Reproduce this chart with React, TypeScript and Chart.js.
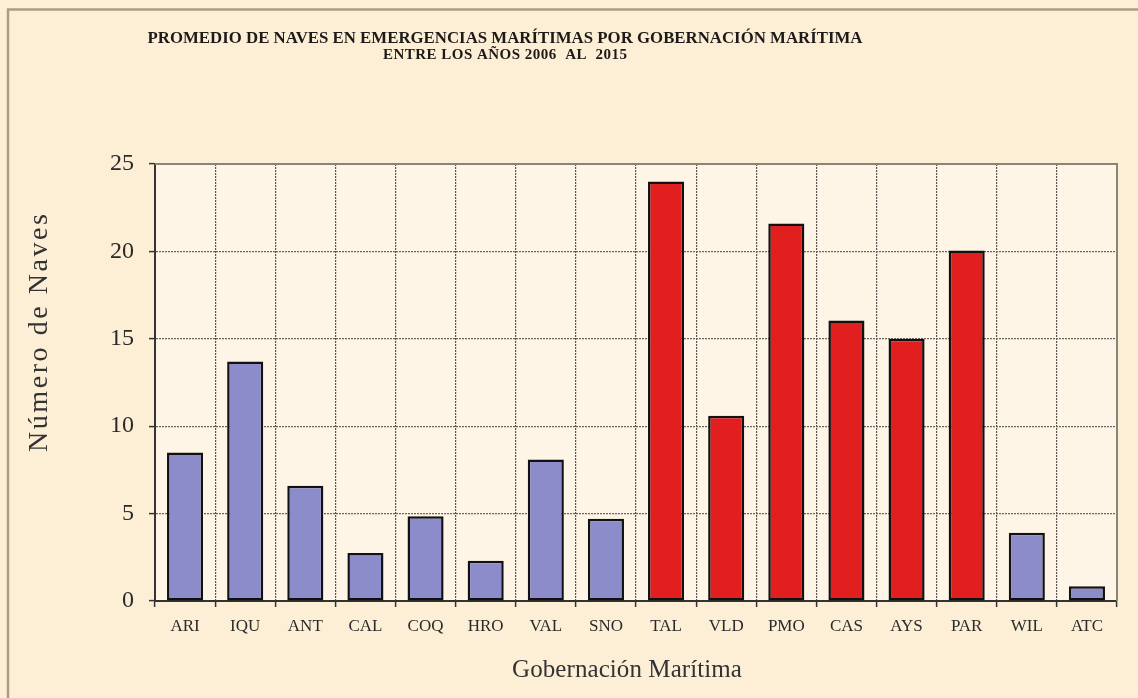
import React, { useEffect, useRef } from "react";
import { Chart, registerables } from "chart.js";

Chart.register(...registerables);

// ---- data ----
const categories = ["ARI", "IQU", "ANT", "CAL", "COQ", "HRO", "VAL", "SNO", "TAL", "VLD", "PMO", "CAS", "AYS", "PAR", "WIL", "ATC"];
const values = [8.5, 13.7, 6.6, 2.75, 4.85, 2.3, 8.1, 4.7, 24.0, 10.6, 21.6, 16.05, 15.0, 20.05, 3.9, 0.85];
const groups = ["n", "n", "n", "n", "n", "n", "n", "n", "h", "h", "h", "h", "h", "h", "n", "n"];
const yTickValues = [0, 5, 10, 15, 20, 25];
const titleLines = [
  "PROMEDIO DE NAVES EN EMERGENCIAS MARÍTIMAS POR GOBERNACIÓN MARÍTIMA",
  "ENTRE LOS AÑOS 2006  AL  2015",
];
const yTitle = "Número de Naves";
const xTitle = "Gobernación Marítima";

const COLOR_NORMAL = "#8c8ccb";
const COLOR_HIGH = "#e21f1f";
const BG = "#fcefd6";
const PLOT_BG = "#fff5e6";
const SERIF = "'Liberation Serif', 'DejaVu Serif', serif";

function drawFitted(ctx: CanvasRenderingContext2D, text: string, cx: number, cy: number, target: number, font: string, color: string) {
  ctx.save();
  ctx.font = font;
  ctx.fillStyle = color;
  ctx.textBaseline = "middle";
  ctx.textAlign = "left";
  const w = ctx.measureText(text).width;
  const n = Array.from(text).length;
  if (w < target && n > 1) {
    const ls = (target - w) / (n - 1);
    (ctx as any).letterSpacing = ls.toFixed(2) + "px";
    ctx.fillText(text, cx - target / 2, cy);
  } else {
    ctx.fillText(text, cx - target / 2, cy, target);
  }
  ctx.restore();
}

const decorPlugin = {
  id: "decor",
  beforeDraw(chart: any) {
    const { ctx, width, height, chartArea } = chart;
    ctx.save();
    ctx.fillStyle = BG;
    ctx.fillRect(0, 0, width, height);
    ctx.strokeStyle = "#a89e86";
    ctx.lineWidth = 2.5;
    ctx.beginPath();
    ctx.moveTo(8, height);
    ctx.lineTo(8, 9.5);
    ctx.lineTo(width, 9.5);
    ctx.stroke();
    ctx.fillStyle = PLOT_BG;
    ctx.fillRect(chartArea.left, chartArea.top, chartArea.right - chartArea.left, chartArea.bottom - chartArea.top);
    ctx.restore();
  },
  beforeDatasetsDraw(chart: any) {
    const { ctx, chartArea } = chart;
    ctx.save();
    ctx.strokeStyle = "#8a8378";
    ctx.lineWidth = 2;
    ctx.beginPath();
    ctx.moveTo(chartArea.left, chartArea.top);
    ctx.lineTo(chartArea.right, chartArea.top);
    ctx.lineTo(chartArea.right, chartArea.bottom);
    ctx.stroke();
    ctx.restore();
  },
  afterDraw(chart: any) {
    const { ctx } = chart;
    drawFitted(ctx, titleLines[0], 505, 39, 715, `bold 17px ${SERIF}`, "#1e1a18");
    drawFitted(ctx, titleLines[1], 505, 55, 244, `bold 15px ${SERIF}`, "#1e1a18");
    ctx.save();
    ctx.translate(40, 333);
    ctx.rotate(-Math.PI / 2);
    drawFitted(ctx, yTitle, 0, 0, 238, `28px ${SERIF}`, "#333");
    ctx.restore();
    drawFitted(ctx, xTitle, 627, 670, 230, `25px ${SERIF}`, "#333");
  },
};

export default function App() {
  const ref = useRef<HTMLCanvasElement | null>(null);
  useEffect(() => {
    if (!ref.current) return;
    const chart = new Chart(ref.current, {
      type: "bar",
      data: {
        labels: categories,
        datasets: [
          {
            data: values,
            backgroundColor: groups.map((g) => (g === "h" ? COLOR_HIGH : COLOR_NORMAL)),
            borderColor: "#111",
            borderWidth: 2.5,
            borderSkipped: false,
            categoryPercentage: 1,
            barPercentage: 0.6,
          },
        ],
      },
      options: {
        animation: false,
        responsive: false,
        devicePixelRatio: 1,
        layout: { padding: { left: 0, top: 164, right: 21, bottom: 37 } },
        plugins: { legend: { display: false }, tooltip: { enabled: false }, title: { display: false } },
        scales: {
          x: {
            afterFit: (s: any) => { s.height = 60; },
            grid: {
              offset: true,
              color: (c: any) => (c.type !== "tick" || c.index === 0 ? "rgba(0,0,0,0)" : "#5a5550"),
              lineWidth: 1.2,
              tickColor: "#333",
              tickLength: 6,
              tickWidth: 1.5,
            },
            border: { display: true, color: "#333", width: 2, dash: [2, 1] },
            ticks: { color: "#2a2a2a", font: { family: SERIF, size: 17 }, padding: 9, maxRotation: 0, autoSkip: false },
          },
          y: {
            min: 0,
            max: 25,
            afterFit: (s: any) => { s.width = 155; },
            afterBuildTicks: (s: any) => { s.ticks = yTickValues.map((v) => ({ value: v })); },
            grid: {
              color: (c: any) => {
                const v = c.tick ? c.tick.value : null;
                return v === 0 || v === 25 ? "rgba(0,0,0,0)" : "#6a655e";
              },
              lineWidth: 1.2,
              tickColor: "#333",
              tickLength: 6,
              tickWidth: 1.5,
            },
            border: { display: true, color: "#333", width: 2, dash: [2, 1] },
            ticks: { color: "#2a2a2a", font: { family: SERIF, size: 24 }, padding: 15 },
          },
        },
      },
      plugins: [decorPlugin],
    } as any);
    return () => chart.destroy();
  }, []);
  return (
    <div style={{ position: "absolute", left: 0, top: 0, width: 1138, height: 698 }}>
      <canvas ref={ref} width={1138} height={698} style={{ display: "block", width: 1138, height: 698 }} />
    </div>
  );
}
